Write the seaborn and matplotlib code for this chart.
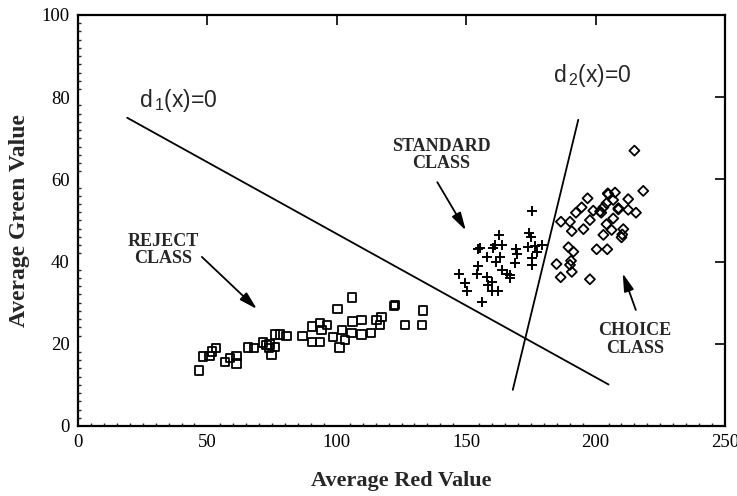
import numpy as np
import pandas as pd
import matplotlib
matplotlib.use("Agg")
import matplotlib.pyplot as plt
import seaborn as sns
from matplotlib.ticker import MultipleLocator

# ---------------- data ----------------
reject_red = [46.7, 48.4, 50.8, 51.7, 53.3, 56.8, 58.7, 61.3, 61.3, 65.6, 68.0, 71.4, 72.9, 73.9,
              74.8, 76.1, 76.1, 78.1, 80.6, 86.8, 90.3, 90.3, 93.5, 93.5, 96.1, 94.1, 98.6, 100.3,
              101.0, 101.9, 103.2, 105.7, 106.0, 106.1, 109.6, 109.6, 113.2, 115.4, 116.7, 117.3,
              122.2, 126.4, 133.4, 132.8, 74.0, 122.5]
reject_green = [13.5, 16.9, 17.0, 18.1, 18.9, 15.6, 16.5, 17.0, 15.2, 19.1, 18.9, 20.3, 19.7, 18.9,
                17.3, 19.3, 22.3, 22.3, 21.9, 21.9, 24.2, 20.5, 20.5, 25.1, 24.6, 23.4, 21.6, 28.5,
                19.1, 23.4, 20.9, 22.7, 31.3, 25.4, 25.8, 22.3, 22.7, 25.8, 24.6, 26.6,
                29.2, 24.6, 28.1, 24.6, 19.8, 29.5]

standard_red = [175.6, 174.4, 174.9, 173.7, 176.6, 179.2, 177.2, 175.3, 175.3, 162.7, 154.7, 160.5,
                164.0, 161.3, 169.2, 169.5, 168.9, 157.9, 163.1, 161.7, 154.7, 163.7, 165.6, 166.9,
                147.3, 154.0, 149.5, 150.2, 157.9, 159.8, 158.5, 159.8, 162.4, 156.0, 155.5, 167.0]
standard_green = [52.4, 46.9, 46.1, 43.6, 43.8, 44.0, 42.4, 40.8, 39.2, 46.5, 43.0, 43.4,
                  44.0, 44.0, 43.0, 41.8, 39.6, 41.2, 41.2, 40.0, 38.9, 38.0, 37.0, 35.9,
                  37.0, 37.0, 34.7, 32.9, 36.3, 35.1, 34.3, 32.9, 32.9, 30.2, 43.2, 36.8]

choice_red = [215.0, 218.4, 207.5, 204.9, 212.6, 206.8, 196.9, 204.2, 194.6, 199.1, 203.0, 208.8,
              215.6, 192.4, 197.8, 202.2, 206.8, 186.6, 190.1, 190.8, 195.3, 204.2, 206.2, 210.7,
              203.0, 210.0, 189.5, 191.4, 200.4, 204.5, 184.9, 190.1, 190.8, 186.5, 197.8, 204.7,
              201.7, 208.8, 212.6, 190.5, 210.3]
choice_green = [67.0, 57.2, 56.8, 56.4, 55.2, 55.0, 55.4, 54.2, 53.2, 52.4, 53.2, 52.7,
                51.9, 51.9, 50.1, 51.9, 50.5, 49.7, 49.7, 47.4, 47.9, 49.1, 47.7, 47.9,
                46.5, 45.9, 43.5, 42.4, 43.0, 43.0, 39.4, 39.2, 37.5, 36.2, 35.7, 56.6,
                52.2, 53.0, 52.6, 40.2, 46.6]

d1_x = [19.0, 205.0]
d1_y = [75.0, 10.1]
d2_x = [168.0, 193.3]
d2_y = [8.8, 74.5]

x_ticks = [0, 50, 100, 150, 200, 250]
y_ticks = [0, 20, 40, 60, 80, 100]

# ---------------- plot ----------------
sns.set_theme(style="white")
plt.rcParams['font.family'] = ['Liberation Serif', 'DejaVu Serif']
plt.rcParams['mathtext.fontset'] = 'custom'
plt.rcParams['mathtext.rm'] = 'Liberation Sans'
plt.rcParams['mathtext.it'] = 'Liberation Sans'

fig = plt.figure(figsize=(7.37, 4.96), dpi=100)
ax = fig.add_axes([78 / 737, 1 - 426 / 496, (725 - 78) / 737, (426 - 15) / 496])

df_r = pd.DataFrame({"red": reject_red, "green": reject_green})
df_s = pd.DataFrame({"red": standard_red, "green": standard_green})
df_c = pd.DataFrame({"red": choice_red, "green": choice_green})

sns.scatterplot(data=df_r, x="red", y="green", marker="s", s=36, facecolor="none",
                edgecolor="black", linewidth=1.3, ax=ax, zorder=3)
sns.scatterplot(data=df_s, x="red", y="green", marker="+", s=55, color="black",
                linewidth=1.4, ax=ax, zorder=3)
sns.scatterplot(data=df_c, x="red", y="green", marker="D", s=26, facecolor="none",
                edgecolor="black", linewidth=1.3, ax=ax, zorder=3)

ax.plot(d1_x, d1_y, color="black", linewidth=1.3)
ax.plot(d2_x, d2_y, color="black", linewidth=1.3)

ax.set_xlim(0, 250)
ax.set_ylim(0, 100)
ax.set_xticks(x_ticks)
ax.set_yticks(y_ticks)
ax.xaxis.set_minor_locator(MultipleLocator(5))
ax.yaxis.set_minor_locator(MultipleLocator(2))
ax.tick_params(which="major", direction="in", length=7, width=1.2, top=True, right=True,
               labelsize=13.5, pad=6, colors="black")
ax.tick_params(which="minor", direction="in", length=2.5, width=1.0, bottom=True, left=True,
               top=False, right=False)
for sp in ax.spines.values():
    sp.set_linewidth(1.6)
    sp.set_color("black")

ax.set_xlabel("Average Red Value", fontsize=16, fontweight="bold", labelpad=14)
ax.set_ylabel("Average Green Value", fontsize=17, fontweight="bold", labelpad=8)

# annotations
ax.text(23.6, 79.2, r"d$_{\,1}$(x)=0", family=["Liberation Sans"], fontsize=16.5,
        va="center", ha="left")
ax.text(183.5, 85.4, r"d$_{\,2}$(x)=0", family=["Liberation Sans"], fontsize=16.5,
        va="center", ha="left")

ax.text(140.3, 66.0, "STANDARD\nCLASS", fontsize=13, fontweight="bold", ha="center",
        va="center", linespacing=1.0)
ax.text(32.8, 42.8, "REJECT\nCLASS", fontsize=13, fontweight="bold", ha="center",
        va="center", linespacing=1.0)
ax.text(215.2, 21.0, "CHOICE\nCLASS", fontsize=13, fontweight="bold", ha="center",
        va="center", linespacing=1.05)

arrow = dict(arrowstyle="-|>,head_length=0.9,head_width=0.25", color="black", lw=1.3)
ax.annotate("", xy=(69.9, 28.0), xytext=(47.1, 41.6), arrowprops=arrow)
ax.annotate("", xy=(150.4, 47.0), xytext=(138.3, 59.9), arrowprops=arrow)
ax.annotate("", xy=(210.1, 37.8), xytext=(215.9, 27.6), arrowprops=arrow)

fig.savefig("out.png", dpi=100)
